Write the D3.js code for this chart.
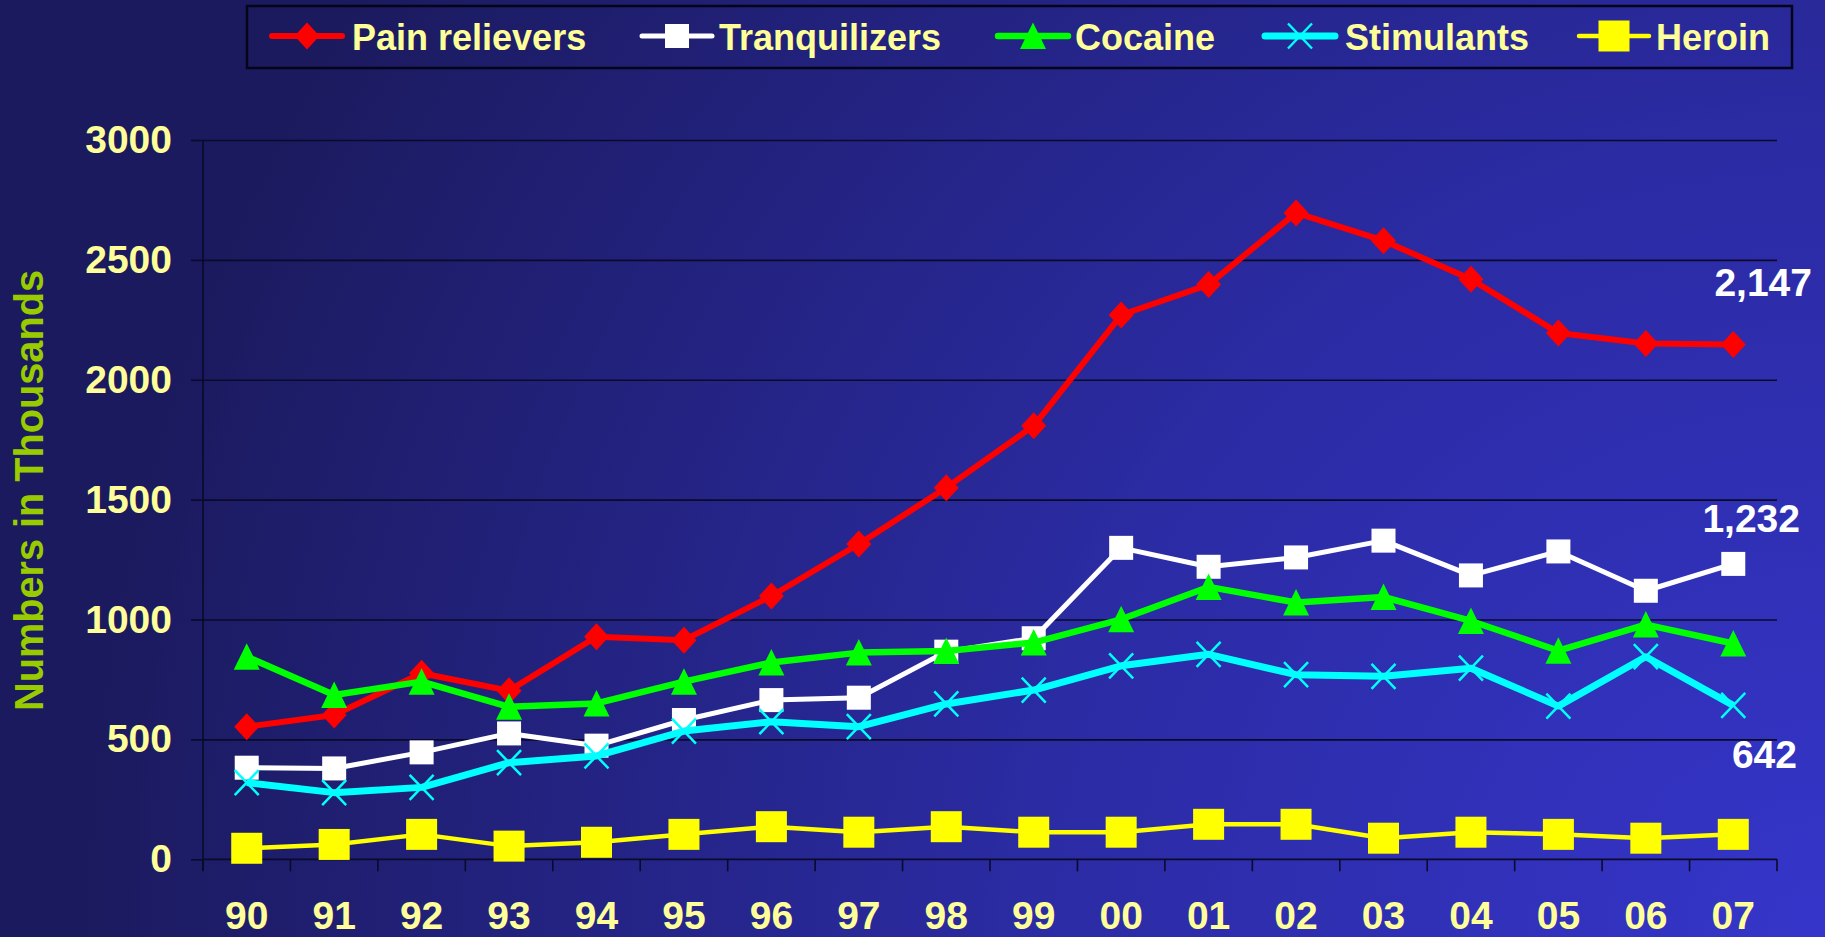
<!DOCTYPE html>
<html>
<head>
<meta charset="utf-8">
<script src="https://cdn.jsdelivr.net/npm/d3@7"></script>
<style>
  html, body { margin: 0; padding: 0; background: #1b1a5e; }
  svg { display: block; }
  text { font-family: "Liberation Sans", Arial, sans-serif; font-weight: bold; }
</style>
</head>
<body>
<svg id="chart" width="1825" height="937"></svg>
<script>
// ---- data ----
const years = ["90","91","92","93","94","95","96","97","98","99","00","01","02","03","04","05","06","07"];
const painRelievers = [553,602,776,703,928,914,1098,1315,1550,1808,2270,2397,2696,2580,2419,2195,2151,2147];
const tranquilizers = [382,379,446,525,474,581,664,674,866,922,1299,1220,1259,1329,1184,1284,1120,1232];
const cocaine       = [845,685,741,636,650,741,821,862,869,904,1001,1136,1071,1094,994,870,979,900];
const stimulants    = [320,278,300,403,431,535,574,553,648,706,807,855,770,763,797,639,845,642];
const heroin        = [46,62,104,55,71,104,136,113,136,113,113,146,146,88,113,104,88,104];
const yTicks = [0,500,1000,1500,2000,2500,3000];
const seriesNames = ["Pain relievers","Tranquilizers","Cocaine","Stimulants","Heroin"];
const yTitle = "Numbers in Thousands";
const endLabels = [
  {series: "Pain relievers", text: "2,147"},
  {series: "Tranquilizers", text: "1,232"},
  {series: "Stimulants", text: "642"}
];

// ---- styles ----
const styles = {
  "Pain relievers": {color: "#FF0000", width: 6, marker: "diamond"},
  "Tranquilizers":  {color: "#FFFFFF", width: 5, marker: "square", size: 24},
  "Cocaine":        {color: "#00FF00", width: 6.5, marker: "triangle"},
  "Stimulants":     {color: "#00FFFF", width: 7, marker: "x"},
  "Heroin":         {color: "#FFFF00", width: 4.5, marker: "square", size: 31}
};
const seriesValues = [painRelievers, tranquilizers, cocaine, stimulants, heroin];
const series = seriesNames.map((name, i) => ({
  name, values: years.map((y, j) => ({year: y, value: seriesValues[i][j]}))
}));

const W = 1825, H = 937;
const svg = d3.select("#chart");

// background gradient
const defs = svg.append("defs");
const grad = defs.append("radialGradient")
  .attr("id", "bg").attr("gradientUnits", "userSpaceOnUse")
  .attr("cx", 1825).attr("cy", 937).attr("r", 1750);
grad.append("stop").attr("offset", "0%").attr("stop-color", "#3535ca");
grad.append("stop").attr("offset", "45%").attr("stop-color", "#2b2ba4");
grad.append("stop").attr("offset", "100%").attr("stop-color", "#1b1a5e");
svg.append("rect").attr("width", W).attr("height", H).attr("fill", "url(#bg)");

// scales
const x = d3.scaleBand().domain(years).range([203, 1777]).paddingInner(0).paddingOuter(0);
const y = d3.scaleLinear().domain([0, 3000]).range([859.3, 140]);
const cx = d => x(d) + x.bandwidth() / 2;

// gridlines
const grid = svg.append("g").attr("transform", "translate(203,0)")
  .call(d3.axisLeft(y).tickValues(yTicks.filter(v => v > 0)).tickSize(-(1777 - 203)).tickFormat(""));
grid.select(".domain").remove();
grid.selectAll("line").attr("stroke", "#0a0a2a").attr("stroke-width", 1.6);

// y axis
const yAxis = svg.append("g").attr("transform", "translate(203,0)")
  .call(d3.axisLeft(y).tickValues(yTicks).tickSize(12).tickPadding(19).tickFormat(d3.format("d")));
yAxis.select(".domain").attr("d", "M0,140V871").attr("stroke", "#0a0a2a").attr("stroke-width", 1.6);
yAxis.selectAll(".tick line").attr("stroke", "#0a0a2a").attr("stroke-width", 1.6);
yAxis.selectAll(".tick text")
  .attr("fill", "#FFFF99").style("font-size", "39px").style("font-family", "'Liberation Sans', Arial, sans-serif")
  .style("font-weight", "bold");

// x axis
const xAxis = svg.append("g").attr("transform", "translate(0,859.3)")
  .call(d3.axisBottom(x).tickSize(0).tickPadding(0));
xAxis.select(".domain").attr("d", "M203,0H1777").attr("stroke", "#0a0a2a").attr("stroke-width", 1.8);
xAxis.selectAll(".tick text")
  .attr("y", 929 - 859.3).attr("dy", null)
  .attr("fill", "#FFFF99").style("font-size", "39px").style("font-family", "'Liberation Sans', Arial, sans-serif")
  .style("font-weight", "bold");
// boundary ticks
const bounds = years.map(d => x(d)).concat([x.range()[1]]);
xAxis.selectAll("line.bound").data(bounds).enter().append("line")
  .attr("class", "bound").attr("x1", d => d).attr("x2", d => d).attr("y1", 0).attr("y2", 12)
  .attr("stroke", "#0a0a2a").attr("stroke-width", 1.6);

// y title
svg.append("text")
  .attr("transform", "translate(43,490.5) rotate(-90)")
  .attr("text-anchor", "middle")
  .attr("fill", "#99CC00")
  .style("font-size", "40px")
  .attr("textLength", 441).attr("lengthAdjust", "spacingAndGlyphs")
  .text(yTitle);

// markers
function drawMarker(g, type, color, size) {
  if (type === "diamond") {
    g.append("path").attr("d", "M0,-13.5L12.5,0L0,13.5L-12.5,0Z").attr("fill", color);
  } else if (type === "square") {
    g.append("rect").attr("x", -size / 2).attr("y", -size / 2).attr("width", size).attr("height", size).attr("fill", color);
  } else if (type === "triangle") {
    g.append("path").attr("d", "M0,-13.5L13,13L-13,13Z").attr("fill", color);
  } else if (type === "x") {
    g.append("path").attr("d", "M-12,-12.5L12,12.5M12,-12.5L-12,12.5")
      .attr("stroke", color).attr("stroke-width", 2.5).attr("fill", "none");
  }
}

const line = d3.line().x(d => cx(d.year)).y(d => y(d.value));
series.forEach(s => {
  const st = styles[s.name];
  const g = svg.append("g").attr("class", "series");
  g.append("path").datum(s.values).attr("d", line)
    .attr("fill", "none").attr("stroke", st.color).attr("stroke-width", st.width)
    .attr("stroke-linejoin", "round");
  g.selectAll("g.pt").data(s.values).enter().append("g").attr("class", "pt")
    .attr("transform", d => `translate(${cx(d.year)},${y(d.value)})`)
    .each(function () { drawMarker(d3.select(this), st.marker, st.color, st.size); });
});

// end labels
const endPos = {"Pain relievers": {x: 1812, y: 296}, "Tranquilizers": {x: 1800, y: 532}, "Stimulants": {x: 1797, y: 768}};
svg.selectAll("text.endlbl").data(endLabels).enter().append("text")
  .attr("class", "endlbl")
  .attr("x", d => endPos[d.series].x).attr("y", d => endPos[d.series].y)
  .attr("text-anchor", "end").attr("fill", "#FFFFFF").style("font-size", "39px")
  .text(d => d.text);

// legend
const legend = svg.append("g");
legend.append("rect").attr("x", 247).attr("y", 6).attr("width", 1545).attr("height", 62)
  .attr("fill", "none").attr("stroke", "#05051a").attr("stroke-width", 2.5);
const legLineX = [272, 642, 998, 1265, 1579];
const legTextX = [352, 719, 1075, 1345, 1656];
seriesNames.forEach((name, i) => {
  const st = styles[name];
  const g = legend.append("g");
  g.append("line").attr("x1", legLineX[i]).attr("x2", legLineX[i] + 70).attr("y1", 36).attr("y2", 36)
    .attr("stroke", st.color).attr("stroke-width", st.width).attr("stroke-linecap", "round");
  const m = g.append("g").attr("transform", `translate(${legLineX[i] + 35},36)`);
  drawMarker(m, st.marker, st.color, st.size);
  g.append("text").attr("x", legTextX[i]).attr("y", 50).attr("fill", "#FFFF99")
    .style("font-size", "36px").text(name);
});
</script>
</body>
</html>
